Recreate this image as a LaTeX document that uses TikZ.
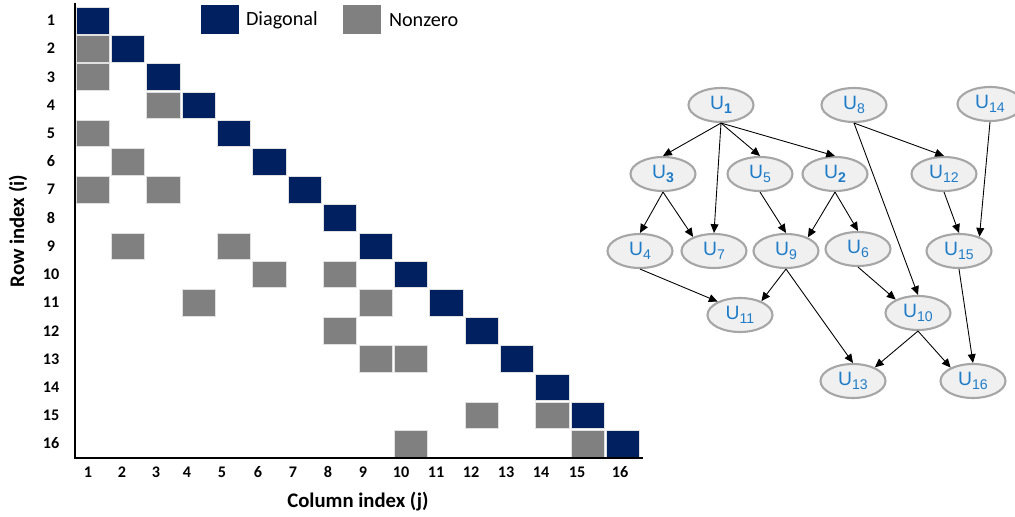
\documentclass[tikz,border=0pt]{standalone}
\usepackage{fontspec}
\usepackage{tikz}
\usetikzlibrary{arrows.meta, positioning, shapes.geometric}
\newfontfamily\calfont{Carlito}
\newfontfamily\arialfont{Liberation Sans}
\definecolor{diagNavy}{HTML}{002060}
\definecolor{nzGray}{HTML}{808080}
\definecolor{nodeFill}{HTML}{F0F0F0}
\definecolor{nodeLine}{HTML}{A6A6A6}
\definecolor{labelBlue}{HTML}{1E7CC8}
\newcommand{\usub}[1]{U\raisebox{-0.45ex}{\fontsize{8}{9}\selectfont #1}}

\begin{document}
\begin{tikzpicture}[x=0.02cm, y=-0.02cm,
  cell/.style={draw=black!12, line width=0.3pt},
  tick/.style={font=\calfont\bfseries\fontsize{9.2}{10}\selectfont, inner sep=0pt},
  axtitle/.style={font=\calfont\bfseries\fontsize{11.8}{13}\selectfont, inner sep=0pt},
  legbox/.style={minimum width=0.76cm, minimum height=0.58cm, inner sep=0pt, anchor=north west},
  legtext/.style={font=\calfont\fontsize{11.5}{13}\selectfont, inner sep=0pt},
  unode/.style={ellipse, draw=nodeLine, fill=nodeFill, line width=1.2pt,
                minimum width=1.3cm, minimum height=0.68cm, inner sep=0pt,
                text=labelBlue, font=\arialfont\fontsize{11}{12}\selectfont},
  edge/.style={-{Triangle[length=5pt,width=4.5pt]}, line width=0.5pt},
]
  \useasboundingbox (0,0) rectangle (1015,517);
  % --- sparsity pattern of the lower triangular matrix ---
  \def\px{35.35}\def\py{28.2}
  \foreach \i in {1,...,16}{
    \fill[cell, fill=diagNavy] ({76+\px*(\i-1)},{7.3+\py*(\i-1)}) rectangle ++(33.3,26.5);
  }
  \foreach \r/\c in {2/1, 3/1, 4/3, 5/1, 6/2, 7/1, 7/3, 9/2, 9/5, 10/6, 10/8, 11/4,
                     11/9, 12/8, 13/9, 13/10, 15/12, 15/14, 16/10, 16/15}{
    \filldraw[cell, fill=nzGray] ({76+\px*(\c-1)},{7.3+\py*(\r-1)}) rectangle ++(33.3,26.5);
  }
  % axes
  \draw[line width=0.7pt] (75,3) -- (75,458) -- (643,458);
  \foreach \i in {1,...,16}{
    \node[tick] (r\i) at (51,{20.5+\py*(\i-1)}) {\i};
  }
  \foreach \j/\x in {1/88, 2/122, 3/156, 4/187, 5/222, 6/258, 7/293, 8/328,
                     9/363, 10/401, 11/436, 12/471, 13/506, 14/541, 15/577, 16/620}{
    \node[tick] (c\j) at (\x,472) {\j};
  }
  \node[axtitle, rotate=90] (ytitle) at (18,231) {Row index (i)};
  \node[axtitle] (xtitle) at (358,502) {Column index (j)};
  % --- legend ---
  \node[legbox, fill=diagNavy] (legD) at (201,5) {};
  \node[legtext, right=0.12cm of legD] (legDtxt) {Diagonal};
  \node[legbox, fill=nzGray] (legN) at (343,5) {};
  \node[legtext, right=0.14cm of legN] (legNtxt) {Nonzero};
  % --- dependency graph ---
  \node[unode] (u1)  at (721,105) {\usub{\textbf{1}}};
  \node[unode] (u8)  at (854,105) {\usub{8}};
  \node[unode] (u14) at (990,104) {\usub{14}};
  \node[unode] (u3)  at (663,174) {\usub{\textbf{3}}};
  \node[unode] (u5)  at (760,174) {\usub{5}};
  \node[unode] (u2)  at (835,174) {\usub{\textbf{2}}};
  \node[unode] (u12) at (944,174) {\usub{12}};
  \node[unode] (u4)  at (640,251) {\usub{4}};
  \node[unode] (u7)  at (714,251) {\usub{7}};
  \node[unode] (u9)  at (786,251) {\usub{9}};
  \node[unode] (u6)  at (858,249) {\usub{6}};
  \node[unode] (u15) at (959,251) {\usub{15}};
  \node[unode] (u11) at (740,315) {\usub{11}};
  \node[unode] (u10) at (918,313) {\usub{10}};
  \node[unode] (u13) at (853,381) {\usub{13}};
  \node[unode] (u16) at (973,381) {\usub{16}};
  % edges
  \foreach \a/\b in {u1.south/u3.north, u1.south/u7.north, u1.south/u5.north,
                     u1.south/u2.north, u8.south/u12.north, u8.south/u10.north,
                     u14.south/u15.35, u3.south/u4.north, u3.south/u7.146,
                     u5.south/u9.north, u2.south/u9.32, u2.south/u6.north,
                     u12.south/u15.north, u4.south/u11.149, u9.south/u11.33,
                     u9.south/u13.north, u6.south/u10.149, u10.south/u13.32,
                     u10.south/u16.149, u15.south/u16.north}{
    \draw[edge] (\a) -- (\b);
  }
\end{tikzpicture}
\end{document}
